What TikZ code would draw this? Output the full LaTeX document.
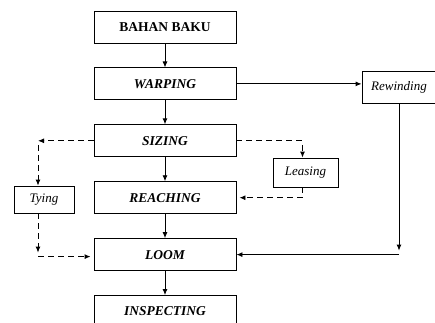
\documentclass[tikz,border=0pt]{standalone}
\usepackage{fontspec}
\setmainfont{Liberation Serif}
\usetikzlibrary{arrows.meta, calc, positioning}

\tikzset{
	stage/.style={draw, line width=0.9pt, minimum width=142pt, minimum height=32pt, inner sep=0pt, font=\fontsize{13.5}{15}\selectfont\bfseries\itshape},
	side/.style={draw, line width=0.9pt, inner sep=0pt, font=\fontsize{13}{15}\selectfont\itshape},
	flow/.style={line width=0.9pt, -{Latex[length=6pt, width=5pt]}},
	dflow/.style={flow, dash pattern=on 6pt off 4pt}
}

\begin{document}
\begin{tikzpicture}[x=1pt, y=-1pt, node distance=24pt]
				\useasboundingbox (0,0) rectangle (435,322);
				% main line
				\node (bahan) [stage, font=\fontsize{13.5}{15}\selectfont\bfseries] at (165,27) {BAHAN BAKU};
				\node (warping) [stage, below=of bahan] {WARPING};
				\node (sizing) [stage, below=of warping] {SIZING};
				\node (reaching) [stage, below=of sizing] {REACHING};
				\node (loom) [stage, below=of reaching] {LOOM};
				\node (inspecting) [stage, below=of loom] {INSPECTING};
				% side steps
				\node (rewinding) [side, minimum width=74pt, minimum height=32pt] at (399,87) {Rewinding};
				\node (leasing) [side, minimum width=65pt, minimum height=29pt] at (305.5,172.5) {Leasing};
				\node (tying) [side, minimum width=60pt, minimum height=27pt] at (44,199.5) {Tying};
				\coordinate (rew_end) at (rewinding.south |- loom.east);
				\coordinate (tie_top) at ([xshift=-6pt]tying.north);
				\coordinate (tie_bot) at ([xshift=-6pt]tying.south);
				\coordinate (tie_turn) at (tie_top |- sizing.west);
				\coordinate (tie_end) at ($(tie_bot |- loom.west)+(0,2)$);
				\draw[flow] (bahan) -- (warping);
				\draw[flow] (warping) -- (sizing);
				\draw[flow] (sizing) -- (reaching);
				\draw[flow] (reaching) -- (loom);
				\draw[flow] (loom) -- (inspecting);
				\draw[flow] (warping.east) -- (warping.east -| rewinding.west);
				\draw[flow] (rewinding.south) -- ([yshift=4pt]rew_end);
				\draw[flow] (rew_end) -- (loom.east);
				\draw[dflow] (sizing.east) -| ([xshift=-3pt]leasing.north);
				\draw[dflow] ([xshift=-3pt]leasing.south) |- ([xshift=3pt]reaching.east);
				\draw[dflow] (sizing.west) -- (tie_turn);
				\draw[dflow] ($(tie_turn)+(0,4)$) -- (tie_top);
				\draw[dflow] (tie_bot) -- ([yshift=4pt]tie_end);
				\draw[dflow] (tie_end) -- ([xshift=-3pt]loom.west |- tie_end);
			\end{tikzpicture}
\end{document}
